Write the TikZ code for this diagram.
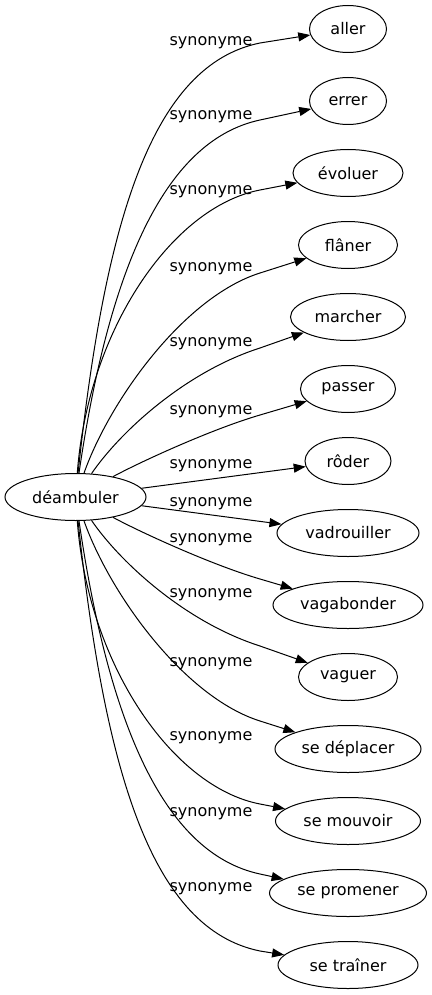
\documentclass[tikz,border=0pt]{standalone}
\usepackage{fontspec}
\setmainfont{DejaVu Sans}
\usetikzlibrary{shapes.geometric,arrows.meta}
\begin{document}
\begin{tikzpicture}[x=1pt,y=-1pt,
  every node/.style={font=\fontsize{16pt}{19pt}\selectfont},
  word/.style={ellipse, draw, line width=1pt, minimum height=47pt, inner sep=0pt},
  lbl/.style={inner sep=0pt},
  link/.style={line width=1pt, -{Triangle[length=12pt,width=9pt]}}]
\useasboundingbox (0,0) rectangle (431,995);
\node[word, minimum width=141pt] (d) at (75.5,497) {déambuler};
\node[word, minimum width=77pt]  (t1)  at (348,29)  {aller};
\node[word, minimum width=77pt]  (t2)  at (348,101) {errer};
\node[word, minimum width=110pt] (t3)  at (348,173) {évoluer};
\node[word, minimum width=99pt]  (t4)  at (348,245) {flâner};
\node[word, minimum width=115pt] (t5)  at (348,317) {marcher};
\node[word, minimum width=95pt]  (t6)  at (348,389) {passer};
\node[word, minimum width=86pt]  (t7)  at (348,461) {rôder};
\node[word, minimum width=142pt] (t8)  at (348,533) {vadrouiller};
\node[word, minimum width=150pt] (t9)  at (348,605) {vagabonder};
\node[word, minimum width=99pt]  (t10) at (348,677) {vaguer};
\node[word, minimum width=146pt] (t11) at (348,749) {se déplacer};
\node[word, minimum width=145pt] (t12) at (348,821) {se mouvoir};
\node[word, minimum width=157pt] (t13) at (348,893) {se promener};
\node[word, minimum width=140pt] (t14) at (348,965) {se traîner};

\node[lbl] (l1)  at (211,42.5)  {synonyme};
\node[lbl] (l2)  at (211,116.5) {synonyme};
\node[lbl] (l3)  at (211,192)   {synonyme};
\node[lbl] (l4)  at (211,268.5) {synonyme};
\node[lbl] (l5)  at (211,343.5) {synonyme};
\node[lbl] (l6)  at (211,411.5) {synonyme};
\node[lbl] (l7)  at (211,466)   {synonyme};
\node[lbl] (l8)  at (211,503.5) {synonyme};
\node[lbl] (l9)  at (211,540)   {synonyme};
\node[lbl] (l10) at (211,595)   {synonyme};
\node[lbl] (l11) at (211,663.5) {synonyme};
\node[lbl] (l12) at (211,737.5) {synonyme};
\node[lbl] (l13) at (211,813.5) {synonyme};
\node[lbl] (l14) at (211,888.5) {synonyme};

\draw[link] (d) .. controls (105,220) and (152,65) .. (260,43) -- (t1);
\draw[link] (d) .. controls (108,275) and (162,141) .. (260,120) -- (t2);
\draw[link] (d) .. controls (88,330) and (172,207) .. (260,190) -- (t3);
\draw[link] (d) .. controls (110,400) and (184,297) .. (260,273) -- (t4);
\draw[link] (d) .. controls (120,432) and (185,372) .. (260,348) -- (t5);
\draw[link] (d) .. controls (140,462) and (212,429) .. (260,415) -- (t6);
\draw[link] (d) -- (t7);
\draw[link] (d) -- (t8);
\draw[link] (d) .. controls (140,532) and (212,565) .. (260,579) -- (t9);
\draw[link] (d) .. controls (120,562) and (185,622) .. (260,646) -- (t10);
\draw[link] (d) .. controls (110,594) and (184,697) .. (260,721) -- (t11);
\draw[link] (d) .. controls (88,664) and (172,787) .. (260,804) -- (t12);
\draw[link] (d) .. controls (108,719) and (162,853) .. (260,874) -- (t13);
\draw[link] (d) .. controls (105,774) and (152,929) .. (260,951) -- (t14);
\end{tikzpicture}
\end{document}
